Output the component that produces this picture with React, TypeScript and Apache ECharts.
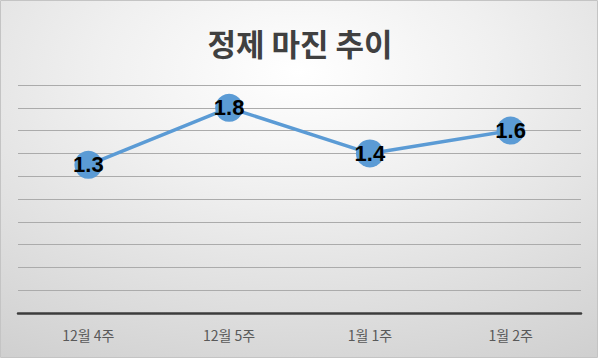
import React, { useEffect, useRef } from "react";
import * as echarts from "echarts";

const titleText = "정제 마진 추이";
const categories = ["12월 4주", "12월 5주", "1월 1주", "1월 2주"];
const margins = [1.3, 1.8, 1.4, 1.6];
const yMin = 0;
const yMax = 2;
const yInterval = 0.2;

export default function App() {
  const ref = useRef<HTMLDivElement>(null);
  useEffect(() => {
    if (!ref.current) return;
    const chart = echarts.init(ref.current, null, { renderer: "svg" });
    chart.setOption({
      animation: false,
      backgroundColor: "#ffffff",
      graphic: [
        {
          type: "rect",
          z: -100,
          silent: true,
          shape: { x: 0.5, y: 0.5, width: 597, height: 357 },
          style: {
            fill: {
              type: "radial",
              x: 0.5,
              y: 0.2,
              r: 0.95,
              colorStops: [
                { offset: 0, color: "#ffffff" },
                { offset: 0.35, color: "#f0f0f0" },
                { offset: 1, color: "#cfcfcf" },
              ],
            },
            stroke: "#c4c4c4",
            lineWidth: 1,
          },
        },
      ],
      title: {
        text: titleText,
        left: "center",
        top: 27,
        padding: 0,
        textStyle: {
          fontFamily: "Noto Sans CJK KR",
          fontSize: 31,
          fontWeight: "bold",
          color: "#404040",
        },
      },
      grid: { left: 18, right: 19, top: 85, bottom: 49 },
      xAxis: {
        type: "category",
        data: categories,
        boundaryGap: true,
        axisTick: { show: false },
        axisLine: { show: true, lineStyle: { color: "#3c3c3c", width: 2.5 } },
        axisLabel: {
          color: "#595959",
          fontSize: 14,
          fontFamily: "Noto Sans CJK KR",
          margin: 15,
        },
        z: 5,
      },
      yAxis: {
        type: "value",
        min: yMin,
        max: yMax,
        interval: yInterval,
        axisLabel: { show: false },
        axisLine: { show: false },
        axisTick: { show: false },
        splitLine: { show: true, lineStyle: { color: "#ababab", width: 1 } },
      },
      series: [
        {
          type: "line",
          data: margins,
          symbol: "circle",
          symbolSize: 28,
          itemStyle: { color: "#5b9bd5" },
          lineStyle: { color: "#5b9bd5", width: 3.5 },
          label: {
            show: true,
            position: "inside",
            fontSize: 22,
            fontWeight: "bold",
            fontFamily: "Liberation Sans",
            color: "#000000",
          },
          z: 3,
        },
      ],
    });
    return () => chart.dispose();
  }, []);
  return (
    <div
      ref={ref}
      style={{ position: "fixed", left: 0, top: 0, width: 600, height: 362 }}
    />
  );
}
